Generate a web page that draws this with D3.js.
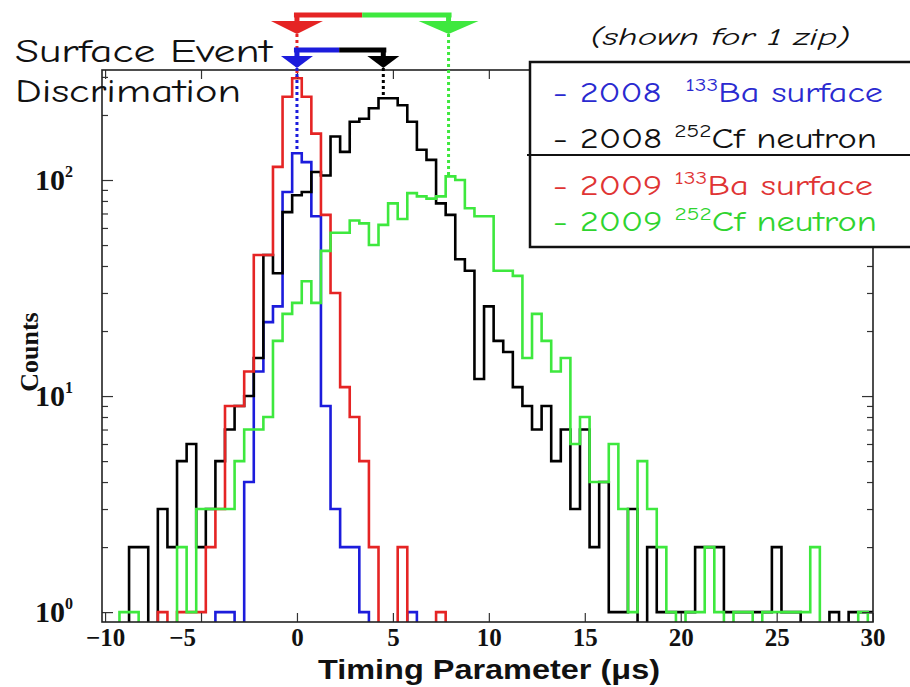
<!DOCTYPE html>
<html><head><meta charset="utf-8">
<script src="https://cdn.jsdelivr.net/npm/d3@7/dist/d3.min.js"></script>
<style>body{margin:0;background:#fff}svg{display:block}</style>
</head><body>
<svg id="chart" width="910" height="687"></svg>
<script>
// ---------------- data ----------------
// histogram bins: centre of first bin and bin width (µs); 81 bins from -10 to 30
const firstBinCentre = -10;
const binWidth = 0.5;
const ba2008 = [0,0,0,0,0,0,0,0,0,0, 0,0,1,1,0,4,13,22,26,88, 133,121,68,9,3,2,2,1,0,0, 0,0,1,0,0,0,0,0,0,0, 0,0,0,0,0,0,0,0,0,0, 0,0,0,0,0,0,0,0,0,0, 0,0,0,0,0,0,0,0,0,0, 0,0,0,0,0,0,0,0,0,0, 0];
const cf2008 = [0,0,0,2,2,0,3,2,5,6, 2,3,5,7,9,10,15,45,37,71, 85,88,109,105,159,135,186,192,215,239, 239,222,186,138,124,78,69,43,38,12, 26,18,16,11,9,7,9,5,7,3, 7,2,4,1,1,3,0,2,1,1, 1,1,2,2,2,1,1,1,1,1, 2,1,1,0,0,0,1,0,1,1, 1];
const ba2009 = [0,0,0,0,0,0,1,0,1,1, 1,2,3,9,9,13,45,45,115,243, 296,243,164,69,30,11,8,5,2,0, 0,2,0,0,0,1,0,0,0,0, 0,0,0,0,0,0,0,0,0,0, 0,0,0,0,0,0,0,0,0,0, 0,0,0,0,0,0,0,0,0,0, 0,0,0,0,0,0,0,0,0,0, 0];
const cf2009 = [0,0,1,1,0,0,0,0,2,1, 3,3,3,3,5,7,7,8,18,24, 27,34,27,47,57,57,65,63,50,62, 78,66,87,84,82,84,104,100,74,68, 68,38,38,36,15,24,18,13,15,6, 8,4,4,6,3,1,5,3,2,1, 0,1,1,2,1,0,1,1,0,1, 1,1,1,1,2,0,0,0,0,1, 0];

const seriesNames = ["2008 133Ba surface","2008 252Cf neutron","2009 133Ba surface","2009 252Cf neutron"];
const seriesColors = ["#1c1cdc","#000000","#e52424","#3ee83e"];
const legendColors = ["#2a2ad0","#111111","#e03434","#2fd42f"];
const legendYear = ["2008","2008","2009","2009"];
const legendIso = ["133","252","133","252"];
const legendElem = ["Ba","Cf","Ba","Cf"];
const legendWord = ["surface","neutron","surface","neutron"];
// peak markers (µs) drawn by the arrows at the top
const peakPos = [0, 4.5, 0, 7.9];
const splitTop = 3.4;    // where the red bar turns green
const splitLow = 2.2;    // where the blue bar turns black

const xTicks = [-10,-5,0,5,10,15,20,25,30];
const yMajor = [1,10,100];
const yMinor = [2,3,4,5,6,7,8,9,20,30,40,50,60,70,80,90,200,300];
const xTitle = "Timing Parameter (\u03bcs)";
const yTitle = "Counts";

// ---------------- drawing ----------------
const svg = d3.select("#chart");
const L = 102, R = 873, T = 70, B = 622;
const x = d3.scaleLinear().domain([-10.16, 30.02]).range([L, R]);
const y = d3.scaleLog().domain([0.9, 323]).range([B, T]);

const series = [ba2008, cf2008, ba2009, cf2009];

svg.append("defs").append("clipPath").attr("id","clip")
  .append("rect").attr("x",L).attr("y",T-40).attr("width",R-L).attr("height",B-T+40);

function stepPath(vals){
  const pts = [];
  const yz = B + 6;
  vals.forEach((v,i)=>{
    const c = firstBinCentre + i*binWidth;
    const yy = v > 0 ? y(v) : yz;
    pts.push([x(c-binWidth/2), yy],[x(c+binWidth/2), yy]);
  });
  pts.unshift([pts[0][0], yz]);
  pts.push([pts[pts.length-1][0], yz]);
  return d3.line()(pts);
}

const hg = svg.append("g").attr("clip-path","url(#clip)");
[0,1,2,3].forEach(k=>{
  hg.append("path").attr("d", stepPath(series[k]))
    .attr("fill","none").attr("stroke", seriesColors[k])
    .attr("stroke-width",2.6).attr("stroke-linejoin","miter");
});

// axes
const serif = "'Liberation Serif','Times New Roman',serif";
const axB = d3.axisBottom(x).tickValues(xTicks).tickSize(-9).tickPadding(9)
  .tickFormat(d => d < 0 ? "\u2212" + Math.abs(d) : String(d));
const gB = svg.append("g").attr("transform",`translate(0,${B})`).call(axB);
gB.select(".domain").remove();
gB.selectAll("text").attr("font-family",serif).attr("font-weight","bold")
  .attr("font-size",25).attr("fill","#111").attr("dy","0.6em")
  .attr("dx", d => d === -5 ? -19 : 0);
const axT = d3.axisTop(x).tickValues(xTicks).tickSize(-9).tickFormat("");
const gT = svg.append("g").attr("transform",`translate(0,${T})`).call(axT);
gT.select(".domain").remove();

const axL = d3.axisLeft(y).tickValues(yMajor).tickSize(-11).tickFormat("");
const gL = svg.append("g").attr("transform",`translate(${L},0)`).call(axL);
gL.select(".domain").remove();
const axLm = d3.axisLeft(y).tickValues(yMinor).tickSize(-6).tickFormat("");
const gLm = svg.append("g").attr("transform",`translate(${L},0)`).call(axLm);
gLm.select(".domain").remove();
const axR = d3.axisRight(y).tickValues(yMajor).tickSize(-11).tickFormat("");
const gR = svg.append("g").attr("transform",`translate(${R},0)`).call(axR);
gR.select(".domain").remove();
const axRm = d3.axisRight(y).tickValues(yMinor).tickSize(-6).tickFormat("");
const gRm = svg.append("g").attr("transform",`translate(${R},0)`).call(axRm);
gRm.select(".domain").remove();
svg.selectAll(".tick line").attr("stroke","#333").attr("stroke-width",1.2);

// frame
svg.append("rect").attr("x",L).attr("y",T).attr("width",R-L).attr("height",B-T)
  .attr("fill","none").attr("stroke","#222").attr("stroke-width",1.6);

// y labels 10^n
yMajor.forEach(v=>{
  const t = svg.append("text").attr("x",73).attr("y",y(v)+10)
    .attr("text-anchor","end").attr("font-family",serif).attr("font-weight","bold")
    .attr("font-size",30).attr("fill","#111");
  t.append("tspan").text("10");
  t.append("tspan").attr("font-size",16).attr("dy",-13).text(String(Math.round(Math.log10(v))));
});

// axis titles
svg.append("text").attr("transform",`translate(38,${(T+B)/2+6}) rotate(-90)`)
  .attr("text-anchor","middle").attr("font-family",serif).attr("font-weight","bold")
  .attr("font-size",26).attr("fill","#111").text(yTitle);
svg.append("text").attr("x",489).attr("y",679).attr("text-anchor","middle")
  .attr("font-family","'Liberation Sans Narrow','Liberation Sans',Arial,sans-serif").attr("font-weight","bold")
  .attr("font-size",28).attr("textLength",342).attr("lengthAdjust","spacingAndGlyphs")
  .attr("fill","#111").text(xTitle);

// top annotations: arrows marking peak positions
const comic = "'Comic Sans MS','Comic Neue','DejaVu Sans',sans-serif";
const ann = svg.append("g");
const yBarTop = 15, yBarLow = 50;
function arrow(cx, yBar, color, half, triTop, tip){
  ann.append("line").attr("x1",x(cx)).attr("x2",x(cx)).attr("y1",yBar).attr("y2",triTop+1)
    .attr("stroke",color).attr("stroke-width",5);
  ann.append("path").attr("d",`M${x(cx)-half},${triTop}L${x(cx)+half},${triTop}L${x(cx)},${tip}Z`)
    .attr("fill",color);
}
function dotted(cx, y1, v, color){
  ann.append("line").attr("x1",x(cx)).attr("x2",x(cx)).attr("y1",y1).attr("y2",y(v))
    .attr("stroke",color).attr("stroke-width",3).attr("stroke-dasharray","3,3");
}
dotted(peakPos[2], 34, d3.max(ba2009), seriesColors[2]);
dotted(peakPos[3], 34, d3.max(cf2009), seriesColors[3]);
dotted(peakPos[0], 68, d3.max(ba2008), seriesColors[0]);
dotted(peakPos[1], 68, d3.max(cf2008), seriesColors[1]);
ann.append("line").attr("x1",x(peakPos[2])-3).attr("x2",x(splitTop)).attr("y1",yBarTop).attr("y2",yBarTop)
  .attr("stroke",seriesColors[2]).attr("stroke-width",5);
ann.append("line").attr("x1",x(splitTop)).attr("x2",x(peakPos[3])+3).attr("y1",yBarTop).attr("y2",yBarTop)
  .attr("stroke",seriesColors[3]).attr("stroke-width",5);
arrow(peakPos[2], yBarTop, seriesColors[2], 26, 21, 34);
arrow(peakPos[3], yBarTop, seriesColors[3], 30, 21, 34);
ann.append("line").attr("x1",x(peakPos[0])-3).attr("x2",x(splitLow)).attr("y1",yBarLow).attr("y2",yBarLow)
  .attr("stroke",seriesColors[0]).attr("stroke-width",5);
ann.append("line").attr("x1",x(splitLow)).attr("x2",x(peakPos[1])+3).attr("y1",yBarLow).attr("y2",yBarLow)
  .attr("stroke",seriesColors[1]).attr("stroke-width",5);
arrow(peakPos[0], yBarLow, seriesColors[0], 16, 56, 68);
arrow(peakPos[1], yBarLow, seriesColors[1], 16, 56, 68);

// title text
svg.append("text").attr("x",15).attr("y",62).attr("font-family",comic).attr("font-size",33)
  .attr("textLength",257).attr("lengthAdjust","spacingAndGlyphs").attr("fill","#111").text("Surface Event");
svg.append("text").attr("x",15).attr("y",102).attr("font-family",comic).attr("font-size",33)
  .attr("textLength",226).attr("lengthAdjust","spacingAndGlyphs").attr("fill","#111").text("Discrimation");
svg.append("text").attr("x",590).attr("y",45).attr("font-family",comic).attr("font-style","italic")
  .attr("font-size",24).attr("textLength",260).attr("lengthAdjust","spacingAndGlyphs")
  .attr("fill","#111").text("(shown for 1 zip)");

// legend box
const lg = svg.append("g");
lg.append("rect").attr("x",530).attr("y",62).attr("width",390).attr("height",185)
  .attr("fill","#fff").attr("stroke","#111").attr("stroke-width",2.5);
lg.append("line").attr("x1",527).attr("x2",910).attr("y1",155).attr("y2",155)
  .attr("stroke","#111").attr("stroke-width",2);
const legBase = [102,148,195,231];
const legWidth = [330,324,320,324];
[0,1,2,3].forEach(k=>{
  const t = lg.append("text").attr("x",553).attr("y",legBase[k]).attr("font-family",comic)
    .attr("font-size",28).attr("fill",legendColors[k])
    .attr("textLength",legWidth[k]).attr("lengthAdjust","spacingAndGlyphs");
  t.append("tspan").text("- " + legendYear[k] + (k===0 ? "\u00a0\u00a0" : " "));
  t.append("tspan").attr("font-size",18).attr("dy",-11).text(legendIso[k]);
  t.append("tspan").attr("dy",11).text(legendElem[k] + " " + legendWord[k]);
});
</script>
</body></html>
